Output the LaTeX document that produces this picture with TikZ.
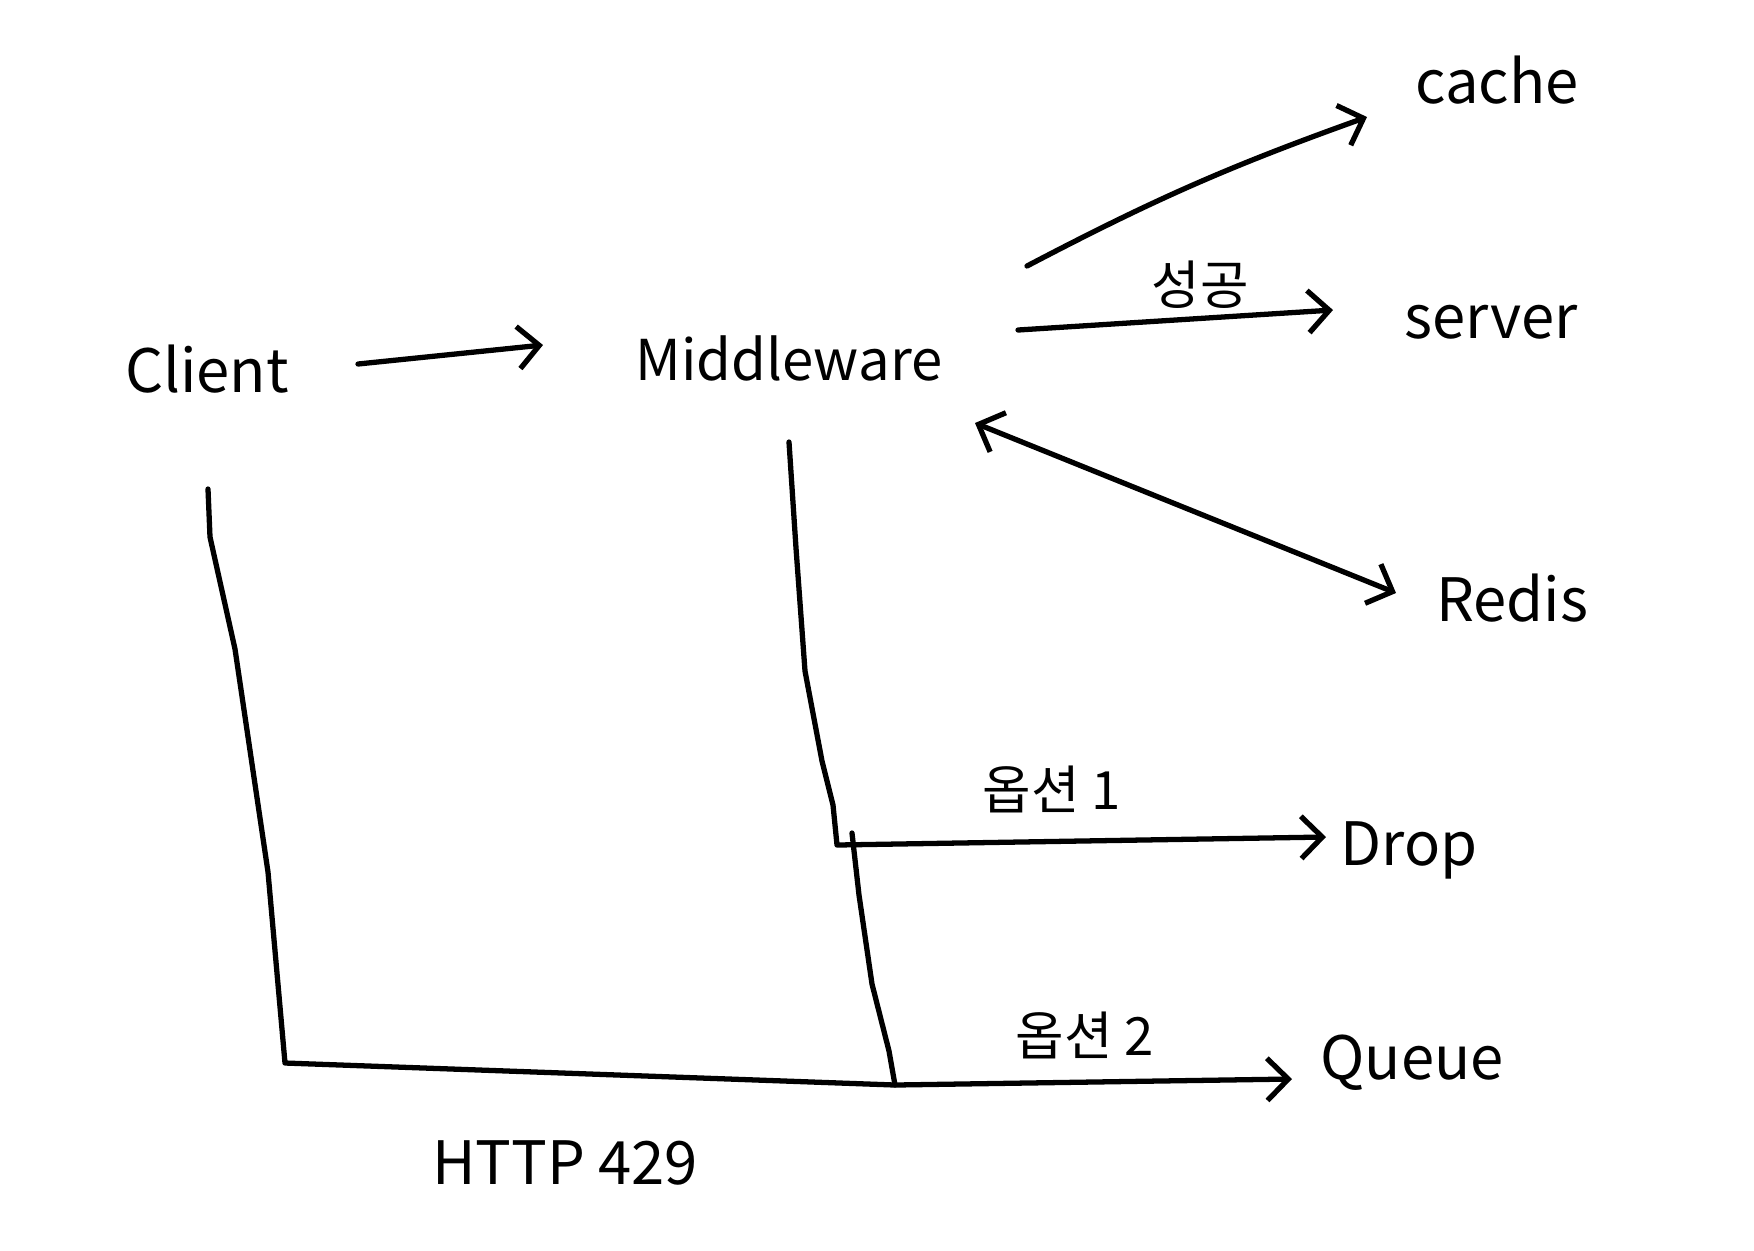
\documentclass[tikz,border=0pt]{standalone}
\usepackage{fontspec}
\setmainfont{Noto Sans CJK KR}
\usetikzlibrary{arrows.meta,calc}

\tikzset{
    word/.style={font=\fontsize{17}{20}\selectfont, inner sep=2pt},
    note/.style={font=\fontsize{15}{18}\selectfont, inner sep=2pt},
    wire/.style={line width=1.5pt, line cap=round, line join=round},
    arr/.style={wire, -{Straight Barb[length=6pt,width=12pt,line width=1.5pt]}},
    darr/.style={wire, {Straight Barb[length=6pt,width=12pt,line width=1.5pt]}-{Straight Barb[length=6pt,width=12pt,line width=1.5pt]}}
}

\begin{document}
\begin{tikzpicture}[x=0.01cm, y=-0.01cm]
    \useasboundingbox (0,0) rectangle (1754,1250);

    % --- Nodes ---
    \node[word] (client) at (207,369) {Client};
    \node[word, font=\fontsize{16}{19}\selectfont] (mw) at (789,358) {Middleware};
    \node[word] (cache)  at (1497,80) {cache};
    \node[word] (server) at (1491,322) {server};
    \node[word] (redis)  at (1512,598) {Redis};
    \node[word] (drop)   at (1409,850) {Drop};
    \node[word] (queue)  at (1412,1063) {Queue};

    % --- Labels ---
    \node[note] (succ) at (1200,285) {성공};
    \node[note] (opt1) at (1052,789) {옵션 1};
    \node[note] (opt2) at (1085,1035) {옵션 2};
    \node[word] (http) at (565,1163) {HTTP 429};

    % --- Corners ---
    \coordinate (m1) at (837,845);  % middleware line turns to Drop
    \coordinate (b1) at (852,833);  % branch to Queue
    \coordinate (m2) at (895,1085); % Queue corner
    \coordinate (c1) at (285,1063); % back to client

    % --- Arrows ---
    \draw[arr] ($(client)+(151,-5)$) -- ($(mw)+(-246,-13)$);
    \draw[arr] ($(mw)+(238,-92)$) to[bend left=4] ($(cache)+(-130,37)$);
    \draw[arr] ($(mw)+(229,-28)$) -- ($(server)+(-158,-12)$);
    \draw[darr] ($(mw)+(186,65)$) -- ($(redis)+(-116,-5)$);

    % --- Rate limit paths ---
    \draw[arr] ($(mw)+(0,84)$) -- (796,548) -- (805,671) -- (822,761)
        -- (833,805) -- (m1) -- ($(drop)+(-83,-13)$);
    \draw[arr] (b1) -- (859,895) -- (872,984) -- (889,1051) -- (m2)
        -- ($(queue)+(-120,16)$);
    \draw[wire] ($(client)+(1,120)$) -- (210,537) -- (235,649) -- (268,872)
        -- (c1) -- (m2);

\end{tikzpicture}
\end{document}
